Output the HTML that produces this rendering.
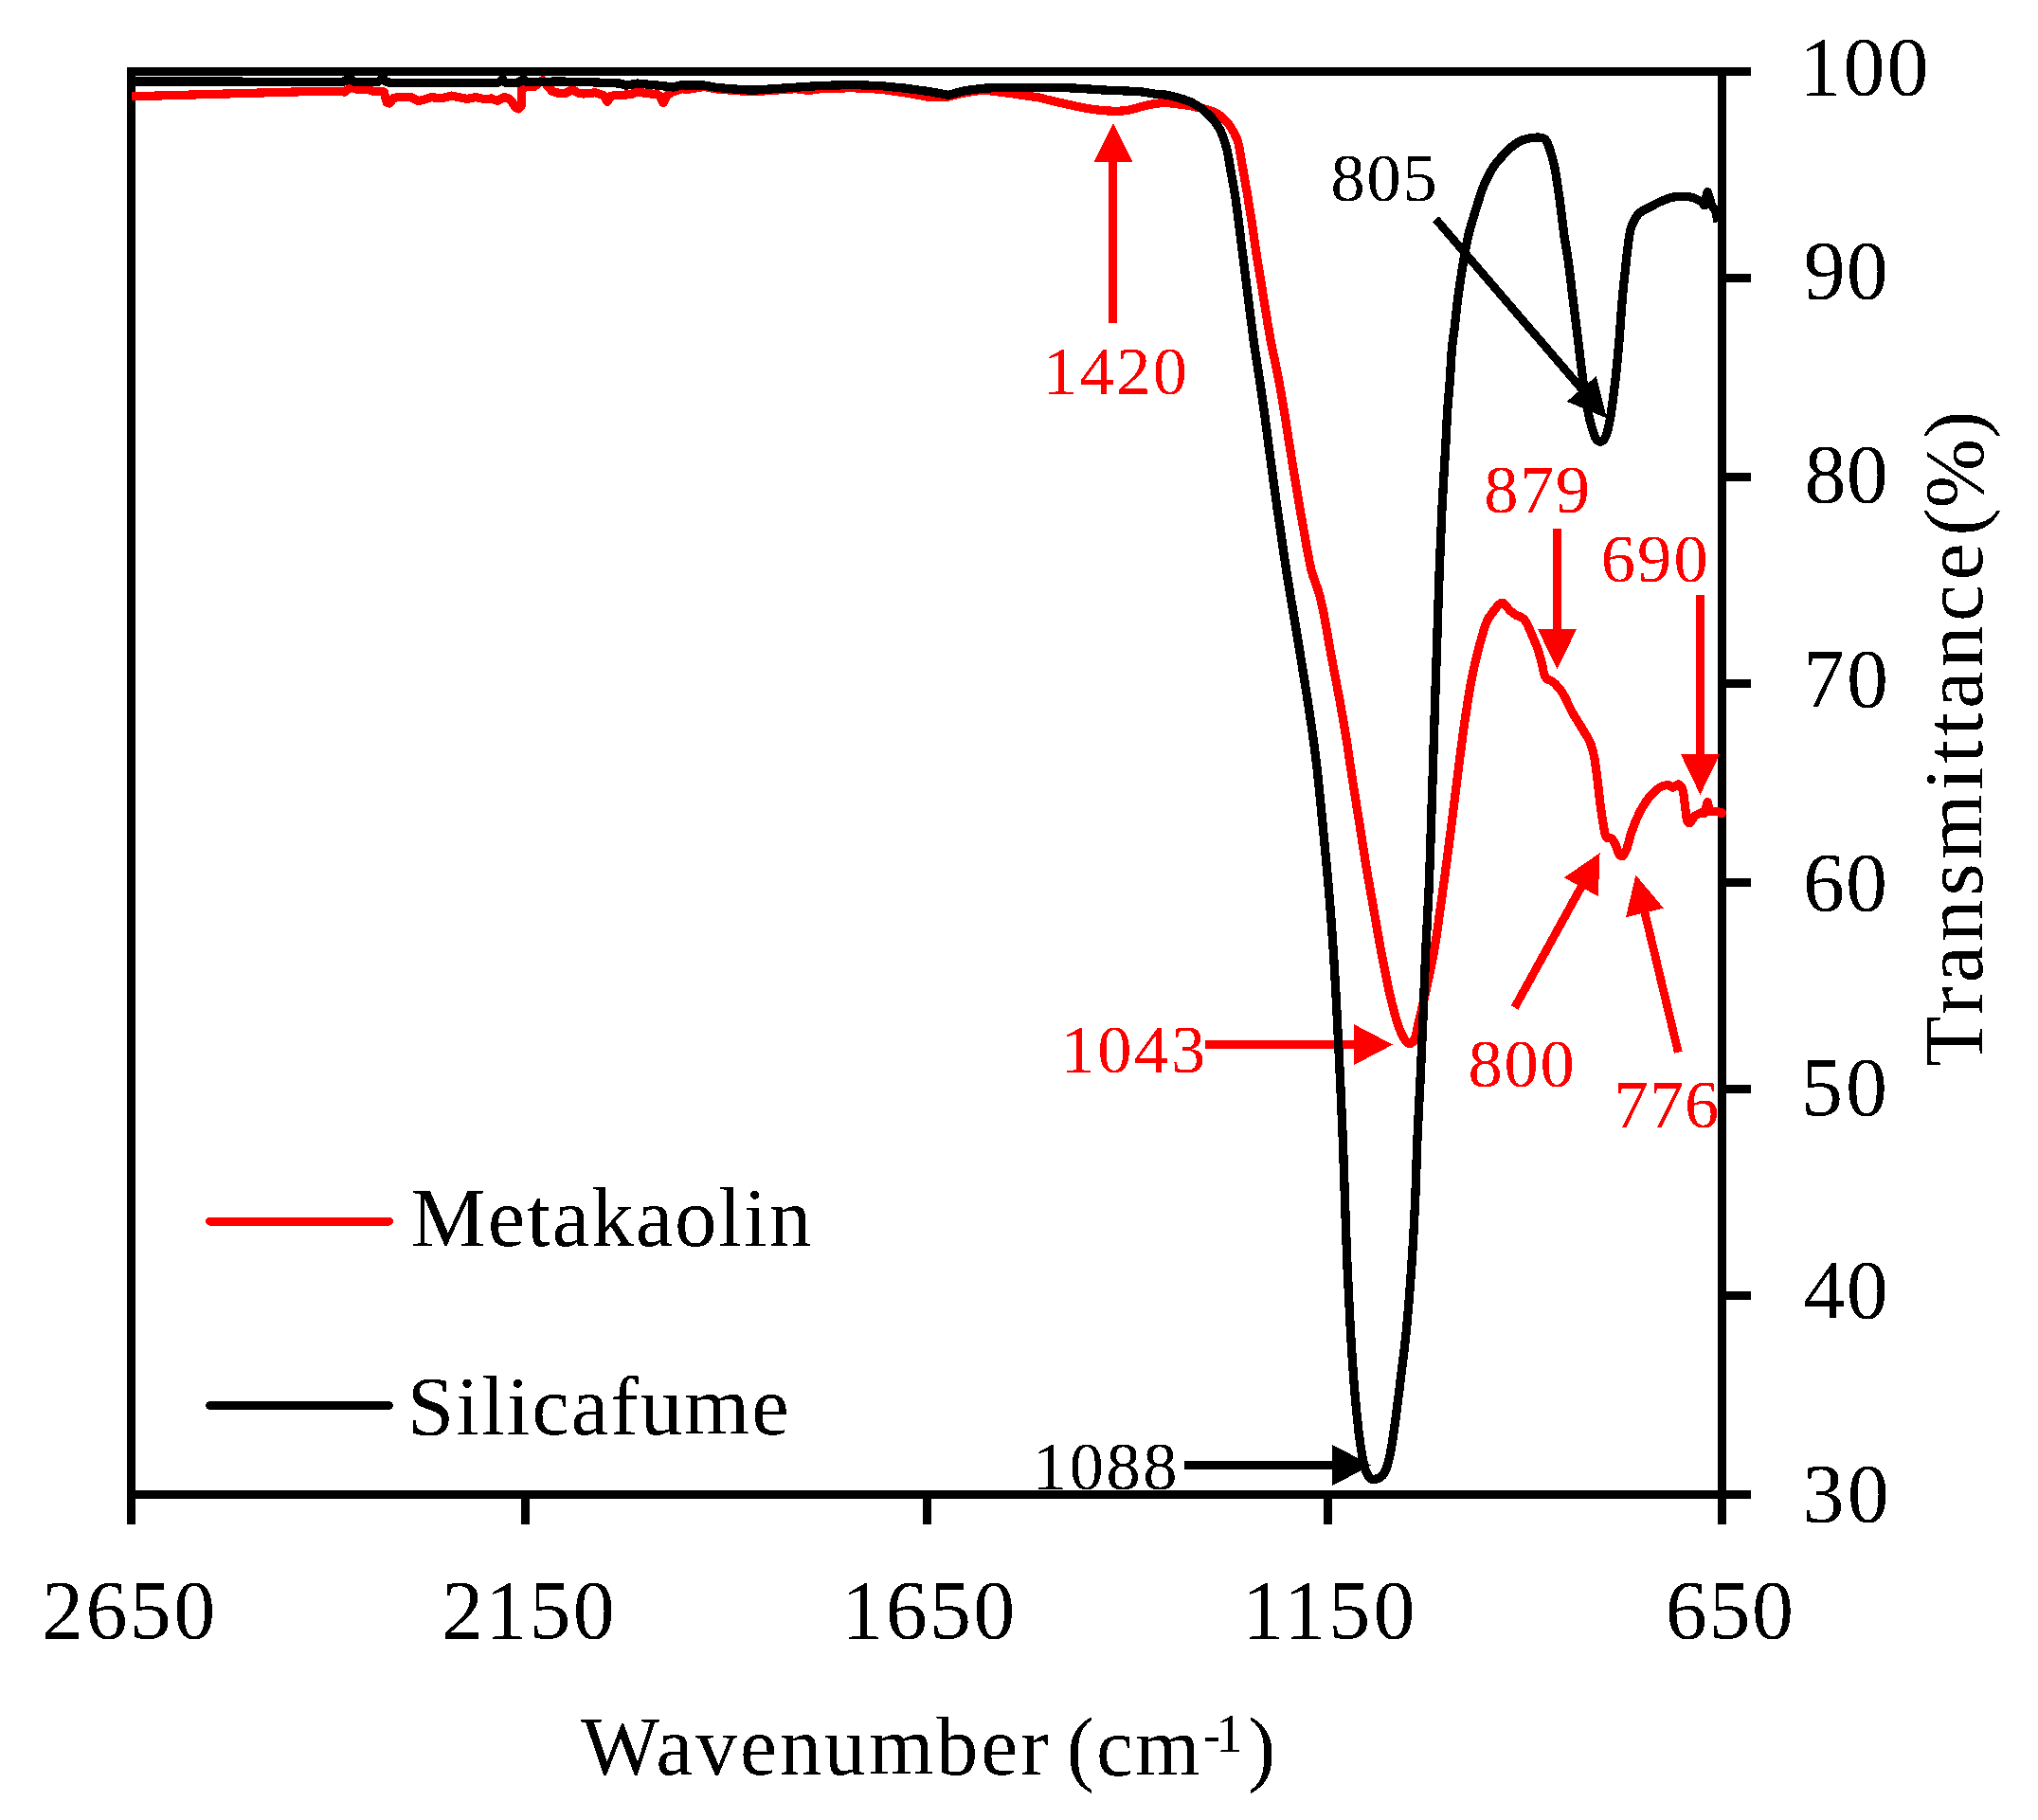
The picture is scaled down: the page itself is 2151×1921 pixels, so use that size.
<!DOCTYPE html><html><head><meta charset="utf-8"><title>FTIR spectra</title>
<style>html,body{margin:0;padding:0;background:#fff}svg{display:block}text{font-family:'Liberation Serif', 'DejaVu Serif', serif}</style></head><body>
<svg width="2151" height="1921" viewBox="0 0 2151 1921" shape-rendering="crispEdges">
<defs><filter id="bin" x="0" y="0" width="100%" height="100%" filterUnits="userSpaceOnUse" primitiveUnits="userSpaceOnUse" color-interpolation-filters="sRGB"><feComponentTransfer><feFuncA type="discrete" tableValues="0 1"/></feComponentTransfer></filter></defs>
<rect width="2151" height="1921" fill="#fff"/>
<g fill="#000">
<rect x="134" y="71" width="9" height="1511"/>
<rect x="134" y="71" width="1714" height="9"/>
<rect x="1813" y="71" width="9" height="1511"/>
<rect x="134" y="1573" width="1714" height="9"/>
<rect x="1813" y="289" width="35" height="9"/>
<rect x="1813" y="499" width="35" height="9"/>
<rect x="1813" y="717" width="35" height="9"/>
<rect x="1813" y="927" width="35" height="9"/>
<rect x="1813" y="1145" width="35" height="9"/>
<rect x="1813" y="1363" width="35" height="9"/>
<rect x="134" y="1573" width="9" height="36"/>
<rect x="550" y="1573" width="9" height="36"/>
<rect x="974" y="1573" width="9" height="36"/>
<rect x="1397" y="1573" width="9" height="36"/>
<rect x="1813" y="1573" width="9" height="36"/>
</g>
<g filter="url(#bin)">
<text x="44.00" y="1729.00" font-size="88.00" fill="#000" letter-spacing="2.43">2650</text>
<text x="466.20" y="1729.00" font-size="88.00" fill="#000" letter-spacing="2.15">2150</text>
<text x="888.60" y="1729.00" font-size="88.00" fill="#000" letter-spacing="2.19">1650</text>
<text x="1311.00" y="1729.00" font-size="88.00" fill="#000" letter-spacing="3.29">1150</text>
<text x="1757.80" y="1729.00" font-size="88.00" fill="#000" letter-spacing="1.60">650</text>
<text x="1899.40" y="99.60" font-size="88.00" fill="#000" letter-spacing="2.10">100</text>
<text x="1903.80" y="315.00" font-size="88.00" fill="#000" letter-spacing="0.90">90</text>
<text x="1904.40" y="530.40" font-size="88.00" fill="#000" letter-spacing="0.40">80</text>
<text x="1903.00" y="745.80" font-size="88.00" fill="#000" letter-spacing="2.00">70</text>
<text x="1903.00" y="961.20" font-size="88.00" fill="#000" letter-spacing="1.00">60</text>
<text x="1901.00" y="1176.60" font-size="88.00" fill="#000" letter-spacing="3.00">50</text>
<text x="1903.40" y="1391.00" font-size="88.00" fill="#000" letter-spacing="1.40">40</text>
<text x="1902.40" y="1606.40" font-size="88.00" fill="#000" letter-spacing="3.30">30</text>
<text x="1100.80" y="415.60" font-size="72.50" fill="#f00" letter-spacing="2.43">1420</text>
<text x="1404.60" y="212.20" font-size="72.50" fill="#000" letter-spacing="1.75">805</text>
<text x="1566.20" y="540.60" font-size="72.50" fill="#f00" letter-spacing="1.50">879</text>
<text x="1689.80" y="613.80" font-size="72.50" fill="#f00" letter-spacing="2.05">690</text>
<text x="1119.40" y="1132.20" font-size="72.50" fill="#f00" letter-spacing="2.59">1043</text>
<text x="1549.40" y="1147.00" font-size="72.50" fill="#f00" letter-spacing="1.75">800</text>
<text x="1703.40" y="1189.80" font-size="72.50" fill="#f00" letter-spacing="1.00">776</text>
<text x="1089.80" y="1572.40" font-size="72.50" fill="#000" letter-spacing="2.59">1088</text>
<text x="433.80" y="1315.00" font-size="89.00" fill="#000" letter-spacing="1.90">Metakaolin</text>
<text x="429.80" y="1514.00" font-size="89.00" fill="#000" letter-spacing="1.93">Silicafume</text>
<text x="613.20" y="1873.00" font-size="88.00" fill="#000" letter-spacing="2.94">Wavenumber</text>
<text x="1125.80" y="1874.00" font-size="88.00" fill="#000" letter-spacing="1.90">(cm</text>
<text x="1269.40" y="1849.00" font-size="57.00" fill="#000" letter-spacing="-5.00">-1</text>
<text x="1317.00" y="1874.00" font-size="88.00" fill="#000" letter-spacing="0.00">)</text>
<g font-size="88" fill="#000" transform="translate(2092.0,0) rotate(-90)">
<text x="-1126.00" y="0" letter-spacing="4.35">Transmittance</text>
<text x="-565.50" y="0" letter-spacing="0.00">(%)</text>
</g>
</g>
<line x1="221.5" y1="1289.2" x2="410.5" y2="1289.2" stroke="#f00" stroke-width="8.8" stroke-linecap="round"/>
<line x1="221.5" y1="1483.5" x2="410.5" y2="1483.5" stroke="#000" stroke-width="8.8" stroke-linecap="round"/>
<g shape-rendering="crispEdges" fill="none" stroke-linejoin="round" stroke-linecap="round">
<g stroke-linecap="butt">
<line x1="1174.6" y1="341.0" x2="1174.8" y2="169.0" stroke="#f00" stroke-width="8.8"/><polygon points="1174.8,130.0 1195.3,171.0 1154.3,171.0" fill="#f00"/>
<line x1="1643.6" y1="558.0" x2="1643.5" y2="666.2" stroke="#f00" stroke-width="8.8"/><polygon points="1643.5,706.2 1623.0,664.2 1664.0,664.2" fill="#f00"/>
<line x1="1794.5" y1="628.0" x2="1794.5" y2="798.3" stroke="#f00" stroke-width="8.8"/><polygon points="1794.5,838.8 1774.0,796.3 1815.0,796.3" fill="#f00"/>
<line x1="1272.0" y1="1102.6" x2="1431.0" y2="1102.6" stroke="#f00" stroke-width="8.8"/><polygon points="1470.0,1102.6 1429.0,1124.1 1429.0,1081.1" fill="#f00"/>
<line x1="1598.6" y1="1063.5" x2="1669.8" y2="934.5" stroke="#f00" stroke-width="8.8"/><polygon points="1688.6,900.3 1686.8,946.1 1650.8,926.3" fill="#f00"/>
<line x1="1771.3" y1="1110.7" x2="1735.5" y2="961.4" stroke="#f00" stroke-width="8.8"/><polygon points="1726.4,923.5 1755.9,958.6 1716.0,968.2" fill="#f00"/>
</g>
<path d="M138.8,101.8L340.0,96.2L355.0,96.5L364.0,97.0L370.0,92.0L375.5,94.0L387.0,94.2L396.0,96.8L404.0,96.5L405.6,97.5L406.6,103.0L408.2,108.0L411.0,109.0L413.5,106.0L416.0,103.2L420.0,102.8L434.0,102.8L442.0,106.7L454.8,102.8L467.6,103.5L476.5,101.0L493.1,104.4L502.0,102.6L512.2,104.8L518.6,103.9L525.0,106.5L532.6,102.4L537.0,103.9L540.5,107.5L544.0,113.5L547.5,115.0L550.0,112.0L550.6,104.0L551.2,90.0L553.0,84.5L556.5,91.0L564.0,91.4L572.8,84.5L578.0,91.0L582.4,96.0L590.0,98.5L597.0,98.4L604.0,94.6L610.0,98.0L615.5,99.0L628.0,97.8L634.0,99.5L637.5,101.0L641.0,107.5L644.5,101.5L650.0,100.5L654.0,100.7L666.5,99.4L673.0,96.9L679.0,98.0L687.0,99.0L693.5,99.5L696.5,101.5L700.0,108.7L703.5,101.5L708.0,98.0L711.0,96.5L720.0,93.5L725.0,94.6L743.0,91.5L756.0,93.9L775.0,95.5L794.0,96.7L813.0,95.5L832.0,94.2L840.0,93.7L854.0,95.5L865.5,93.7L898.7,92.7L929.3,94.2L954.8,97.8L980.0,102.3L999.5,102.3L1018.6,97.8L1037.8,95.0L1050.5,96.5L1069.7,99.0L1100.0,103.5C1101.0,103.7 1101.8,104.4 1102.8,104.6C1111.3,106.7 1119.8,108.7 1128.3,110.5C1136.8,112.3 1145.2,114.3 1153.8,115.5C1161.4,116.6 1169.1,117.2 1176.8,117.3C1181.9,117.4 1187.0,116.9 1192.0,116.0C1196.3,115.3 1200.5,113.6 1204.8,112.5C1209.0,111.5 1213.3,110.4 1217.6,109.7C1221.8,109.1 1226.1,108.6 1230.3,108.6C1234.5,108.6 1238.8,109.4 1243.0,109.9C1247.0,110.4 1251.0,110.8 1255.0,111.5C1258.0,112.0 1261.0,112.8 1264.0,113.5C1267.7,114.3 1271.4,114.8 1275.0,116.0C1278.8,117.3 1282.9,118.5 1286.2,120.8C1290.4,123.8 1294.2,127.7 1297.3,131.8C1300.8,136.5 1303.8,141.8 1305.8,147.3C1307.9,152.9 1308.4,159.1 1309.5,165.0C1310.7,171.6 1311.8,178.2 1312.9,184.8C1314.2,192.2 1315.6,199.5 1316.8,206.9C1318.5,217.2 1320.1,227.5 1321.7,237.8C1323.3,248.1 1324.6,258.4 1326.2,268.7C1328.5,283.4 1331.0,298.2 1333.4,312.9C1335.8,327.6 1338.0,342.4 1340.7,357.0C1343.4,371.8 1346.9,386.4 1349.7,401.2C1352.4,415.9 1354.8,430.7 1357.2,445.4C1358.5,453.6 1359.7,461.8 1361.0,470.0C1363.4,484.7 1365.7,499.5 1368.2,514.2C1370.7,528.9 1373.1,543.6 1375.8,558.3C1378.5,573.1 1380.7,587.9 1384.2,602.5C1386.0,610.0 1389.5,617.1 1391.7,624.6C1393.8,631.8 1395.4,639.2 1396.9,646.6C1399.8,661.3 1402.1,676.1 1404.8,690.8C1407.5,705.5 1410.5,720.2 1413.2,735.0C1415.9,749.7 1418.5,764.4 1420.9,779.1C1423.3,793.8 1425.2,808.6 1427.5,823.3C1429.9,838.9 1432.5,854.4 1435.0,870.0C1437.3,884.7 1439.5,899.5 1441.9,914.2C1444.3,928.9 1447.0,943.6 1449.6,958.3C1452.2,973.0 1454.6,987.8 1457.4,1002.5C1460.2,1017.2 1463.0,1032.0 1466.2,1046.6C1467.8,1054.0 1469.7,1061.4 1471.7,1068.7C1473.3,1074.7 1475.0,1080.7 1477.2,1086.4C1478.7,1090.2 1480.5,1094.0 1482.8,1097.4C1484.0,1099.2 1486.0,1101.8 1487.6,1101.8C1489.3,1101.8 1491.8,1099.4 1492.7,1097.4C1495.0,1092.1 1495.7,1085.7 1497.1,1079.8C1499.7,1068.7 1502.4,1057.7 1504.8,1046.6C1508.0,1031.9 1511.2,1017.3 1513.8,1002.5C1516.4,987.8 1518.2,973.0 1520.3,958.3C1522.4,943.6 1524.4,928.9 1526.3,914.2C1528.3,899.5 1530.1,884.7 1532.0,870.0C1534.0,854.4 1535.8,838.9 1537.8,823.3C1539.7,808.6 1541.5,793.8 1543.5,779.1C1545.5,764.4 1547.7,749.7 1550.0,735.0C1551.2,727.6 1552.5,720.2 1554.0,712.9C1555.5,705.5 1557.2,698.1 1559.0,690.8C1560.8,683.4 1562.8,676.0 1565.0,668.7C1566.5,663.8 1567.9,658.9 1570.0,654.3C1571.0,652.0 1572.8,650.0 1574.3,647.9C1575.7,645.9 1577.1,644.0 1578.6,642.1C1579.7,640.7 1580.8,639.3 1582.1,638.2C1583.1,637.3 1584.6,635.9 1585.7,636.1C1587.1,636.3 1588.3,638.3 1589.5,639.5C1591.0,641.0 1592.1,642.9 1593.6,644.3C1595.6,646.1 1597.7,647.9 1600.0,649.3C1601.7,650.3 1604.1,650.3 1605.7,651.4C1607.6,652.7 1609.4,654.5 1610.7,656.4C1612.3,658.8 1613.1,661.7 1614.3,664.3C1615.8,667.6 1617.2,671.0 1618.6,674.3C1620.0,677.6 1621.7,680.9 1622.9,684.3C1624.1,687.6 1624.8,691.0 1625.7,694.3C1626.5,697.2 1627.2,700.0 1627.9,702.9C1628.5,705.5 1628.8,708.2 1629.6,710.7C1630.2,712.6 1630.7,714.8 1632.1,716.1C1633.7,717.7 1636.7,717.9 1638.6,719.3C1640.7,720.9 1642.6,722.9 1644.3,725.0C1646.4,727.5 1648.3,730.1 1650.0,732.9C1651.6,735.6 1652.9,738.6 1654.3,741.4C1656.0,744.8 1657.5,748.2 1659.3,751.5C1662.8,757.7 1666.7,763.6 1670.3,769.7C1672.9,774.1 1676.0,778.2 1678.0,782.9C1680.1,787.7 1681.3,793.0 1682.4,798.2C1683.9,805.4 1684.7,812.8 1685.7,820.2C1686.9,829.7 1687.8,839.3 1689.0,848.8C1690.0,856.2 1690.9,863.5 1692.3,870.8C1693.1,875.2 1693.5,880.6 1695.6,883.9C1696.5,885.3 1699.8,883.9 1701.1,885.0C1703.1,886.8 1704.3,890.0 1705.5,892.7C1706.8,895.5 1707.3,898.9 1708.8,901.5C1709.5,902.6 1711.2,904.2 1712.1,903.7C1713.8,902.7 1715.5,899.5 1716.5,897.1C1718.5,892.2 1719.3,886.8 1720.9,881.8C1722.6,876.6 1724.3,871.4 1726.4,866.4C1728.7,861.1 1731.2,855.9 1734.1,851.0C1736.7,846.7 1739.6,842.6 1742.9,838.9C1745.4,836.0 1748.3,833.1 1751.6,831.2C1754.2,829.7 1757.5,828.6 1760.4,828.6C1762.3,828.6 1764.1,831.3 1765.9,831.2C1767.8,831.1 1769.8,827.6 1771.4,827.9C1773.1,828.3 1775.1,831.2 1775.8,833.4C1777.5,838.9 1777.6,845.1 1778.5,851.0C1779.3,856.1 1779.3,861.6 1780.7,866.4C1781.0,867.5 1782.7,869.1 1783.5,868.6C1785.5,867.3 1786.7,863.0 1789.0,860.9L1795.6,857.6L1798.9,858.7L1802.2,846.6L1804.8,856.5L1811.0,856.5L1817.6,857.6" stroke="#f00" stroke-width="9.2" stroke-linecap="butt"/>
<circle cx="1816.8" cy="858.0" r="5.3" fill="#f00" stroke="none"/>
<path d="M138.5,86.0L361.0,86.3L365.0,85.5L368.5,82.0L372.0,85.5L376.0,86.7L398.0,86.7L401.0,85.0L404.0,82.0L407.0,86.0L412.0,87.5L525.0,87.5L528.0,86.0L530.5,83.5L533.0,87.0L540.0,87.5L548.0,87.0L552.5,83.5L556.0,86.5L565.0,86.5L590.0,86.0L622.0,86.7L654.0,88.0L661.0,90.1L673.0,88.1L692.0,89.9L711.0,92.0L718.0,90.0L743.0,90.0L756.0,92.4L775.0,94.0L794.0,95.2L813.0,94.0L832.0,92.7L850.0,91.5L865.5,90.5L898.7,89.5L929.3,90.6L954.8,93.1L980.3,96.5L1000.8,100.3L1018.6,95.6L1037.8,93.2L1056.9,92.4L1100.0,92.8C1109.3,92.9 1118.7,92.5 1128.0,92.8C1140.8,93.2 1153.7,94.4 1166.5,95.1C1179.3,95.8 1192.1,95.9 1204.8,96.9C1209.9,97.3 1214.9,98.7 1220.0,99.3C1223.4,99.7 1226.9,99.6 1230.3,100.1C1234.2,100.7 1238.2,101.6 1242.0,102.7C1246.7,104.0 1251.4,105.5 1255.9,107.4C1258.8,108.6 1261.5,110.4 1264.2,112.0C1265.7,112.9 1267.3,113.7 1268.6,114.8C1272.4,118.1 1276.4,121.4 1279.6,125.2C1283.0,129.2 1286.2,133.6 1288.4,138.4C1291.3,144.7 1293.3,151.5 1295.0,158.3C1296.8,165.5 1297.7,173.0 1299.0,180.4C1300.6,189.2 1302.3,198.0 1303.7,206.9C1305.1,215.7 1306.1,224.6 1307.2,233.4C1308.7,245.2 1310.1,256.9 1311.6,268.7C1313.5,283.4 1315.3,298.2 1317.2,312.9C1319.1,327.6 1320.8,342.3 1322.8,357.0C1324.9,371.8 1327.3,386.5 1329.5,401.2C1331.7,415.9 1333.8,430.7 1335.8,445.4C1336.9,453.6 1337.9,461.8 1339.0,470.0C1342.0,492.1 1344.9,514.1 1348.0,536.2C1351.1,558.3 1354.3,580.4 1357.7,602.5C1361.2,624.6 1365.1,646.6 1368.7,668.7C1372.3,690.8 1376.1,712.9 1379.5,735.0C1382.9,757.0 1386.2,779.1 1388.9,801.2C1391.7,824.1 1393.7,847.1 1396.0,870.0C1398.2,892.1 1400.3,914.1 1402.2,936.2C1404.1,958.3 1405.7,980.4 1407.2,1002.5C1408.7,1024.6 1409.8,1046.6 1411.0,1068.7C1412.2,1090.8 1413.3,1112.9 1414.3,1135.0C1415.3,1157.1 1416.3,1179.1 1417.2,1201.2C1418.1,1224.1 1418.8,1247.1 1419.6,1270.0C1420.4,1292.1 1421.1,1314.1 1422.0,1336.2C1423.0,1358.3 1424.0,1380.4 1425.3,1402.5C1426.6,1424.6 1428.0,1446.7 1429.8,1468.7C1431.0,1483.5 1432.5,1498.2 1434.2,1512.9C1435.1,1520.3 1436.2,1527.7 1437.5,1535.0C1438.4,1540.2 1439.2,1545.4 1440.8,1550.4C1441.8,1553.5 1443.1,1556.9 1445.2,1559.2C1446.4,1560.6 1448.9,1561.8 1450.7,1561.5C1453.7,1561.0 1457.5,1559.4 1459.5,1557.0C1462.2,1553.9 1463.6,1549.2 1464.8,1545.0C1466.8,1538.1 1468.0,1531.0 1469.2,1523.9C1471.0,1512.9 1472.4,1501.8 1473.9,1490.8C1475.8,1476.1 1477.6,1461.3 1479.4,1446.6C1481.2,1431.9 1483.1,1417.2 1484.5,1402.5C1486.6,1380.4 1488.3,1358.3 1489.8,1336.2C1491.3,1314.2 1492.5,1292.1 1493.5,1270.0C1494.6,1247.1 1495.0,1224.1 1496.0,1201.2C1496.9,1179.1 1498.3,1157.1 1499.3,1135.0C1500.3,1112.9 1501.3,1090.8 1502.2,1068.7C1503.1,1046.6 1503.8,1024.6 1504.8,1002.5C1505.8,980.4 1507.2,958.3 1508.2,936.2C1509.1,914.1 1509.8,892.1 1510.5,870.0C1511.3,847.1 1512.0,824.1 1512.7,801.2C1513.4,779.1 1514.1,757.1 1514.8,735.0C1515.5,712.9 1516.3,690.8 1517.0,668.7C1517.7,646.6 1518.4,624.6 1519.2,602.5C1520.0,580.4 1520.9,558.3 1522.0,536.2C1523.1,514.1 1524.6,492.1 1525.8,470.0C1526.5,457.3 1527.0,444.7 1527.8,432.0C1528.5,421.3 1529.6,410.7 1530.4,400.0C1531.2,388.7 1531.6,377.3 1532.6,366.0C1533.2,359.0 1534.5,352.0 1535.3,345.0C1536.5,334.8 1537.5,324.5 1538.8,314.3C1540.3,303.3 1541.9,292.3 1543.7,281.3C1545.5,270.3 1547.4,259.2 1549.8,248.3C1551.3,241.7 1553.4,235.3 1555.3,228.9C1557.3,222.3 1559.3,215.7 1561.4,209.1C1562.8,204.7 1564.2,200.2 1566.0,195.9C1567.9,191.4 1570.0,187.0 1572.3,182.7C1574.2,179.3 1576.3,175.9 1578.6,172.8C1580.9,169.8 1583.5,167.1 1586.1,164.3C1588.2,162.0 1590.4,159.6 1592.7,157.4C1594.8,155.5 1597.0,153.7 1599.3,152.1C1601.4,150.7 1603.6,149.3 1605.9,148.3C1608.0,147.4 1610.3,146.8 1612.5,146.3C1614.7,145.8 1616.9,145.5 1619.1,145.3C1621.3,145.1 1623.6,144.9 1625.7,145.3C1627.6,145.6 1630.1,146.1 1631.3,147.5C1633.3,149.8 1634.2,153.3 1635.3,156.4C1636.8,160.7 1638.1,165.2 1639.2,169.6C1640.3,173.9 1641.2,178.3 1642.0,182.7C1642.8,187.1 1643.3,191.5 1644.0,195.9C1644.6,200.3 1645.3,204.7 1645.9,209.1C1646.8,215.7 1647.6,222.3 1648.4,228.9C1649.3,235.9 1650.1,243.0 1651.1,250.0C1652.3,258.0 1653.9,265.8 1655.0,273.8C1657.0,288.4 1658.6,303.1 1660.4,317.8C1662.2,332.5 1664.1,347.1 1665.9,361.8C1667.7,376.4 1669.3,391.1 1671.4,405.7C1673.0,416.7 1674.7,427.8 1676.9,438.7C1678.1,444.5 1679.8,450.3 1681.6,456.0C1682.4,458.5 1683.1,461.2 1684.6,463.2C1685.6,464.6 1687.5,466.2 1689.0,466.2C1690.5,466.2 1692.4,464.6 1693.4,463.2C1694.9,461.2 1695.7,458.5 1696.4,456.0C1697.9,450.3 1699.1,444.5 1700.0,438.7C1701.7,427.7 1703.1,416.7 1704.4,405.7C1706.1,391.1 1707.5,376.4 1708.8,361.8C1710.1,347.1 1710.8,332.5 1712.1,317.8C1713.0,306.8 1714.2,295.8 1715.4,284.8C1716.4,275.3 1717.3,265.8 1718.7,256.3C1719.5,250.4 1720.0,244.2 1722.0,238.7C1723.7,234.0 1726.3,229.1 1729.7,225.5C1732.5,222.5 1737.0,221.0 1740.7,218.9C1745.0,216.6 1749.3,214.2 1753.8,212.3C1758.1,210.5 1762.5,208.4 1767.0,207.9C1773.5,207.1 1780.5,207.2 1786.8,208.4L1796.7,213.4L1798.9,216.7L1802.2,202.4L1806.6,216.7L1811.0,223.3L1813.2,234.3" stroke="#000" stroke-width="9.3" stroke-linecap="butt"/>
<g stroke-linecap="butt">
<line x1="1515.4" y1="231.2" x2="1670.6" y2="411.9" stroke="#000" stroke-width="8.8"/><polygon points="1696.0,441.5 1653.7,423.8 1684.8,397.0" fill="#000"/>
<line x1="1250.2" y1="1546.5" x2="1408.4" y2="1546.5" stroke="#000" stroke-width="8.8"/><polygon points="1447.4,1546.5 1406.4,1568.0 1406.4,1525.0" fill="#000"/>
</g>
</g>
</svg></body></html>
